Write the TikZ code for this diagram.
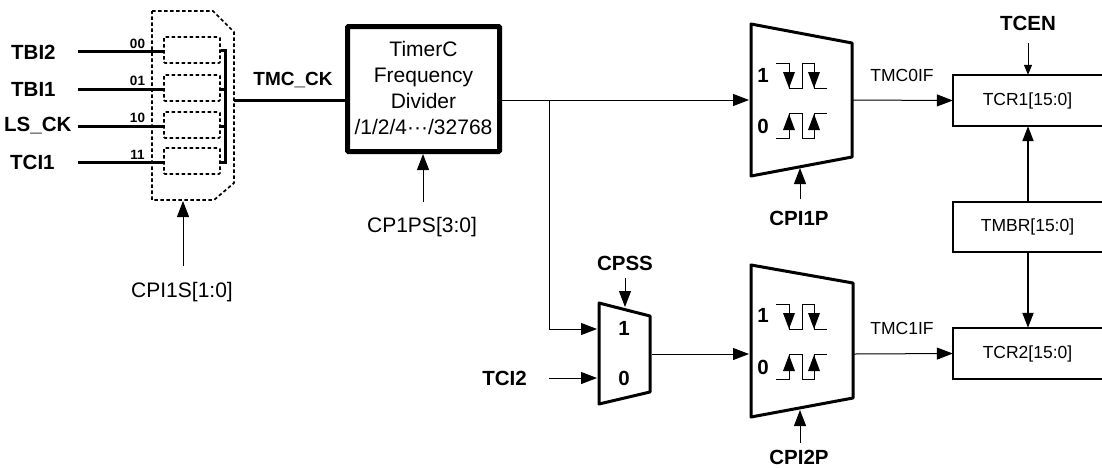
\documentclass[tikz,border=0pt]{standalone}
\usepackage{fontspec}
\setmainfont{Liberation Sans}
\usetikzlibrary{arrows.meta}
\tikzset{
 x=1pt,y=-1pt,
 lbl/.style={inner sep=0pt,font=\fontsize{20.5}{24}\selectfont\bfseries},
 txt/.style={inner sep=0pt,font=\fontsize{21}{24}\selectfont},
 small/.style={inner sep=0pt,font=\fontsize{17.5}{20}\selectfont},
 tiny/.style={inner sep=0pt,font=\fontsize{13.5}{15}\selectfont\bfseries},
 wire/.style={line width=1pt},
 arr/.style={line width=1pt,-{Triangle[length=16pt,width=12pt]}},
 tarr/.style={line width=1pt,-{Triangle[length=10pt,width=8pt]}},
 varr/.style={line width=2pt,-{Triangle[length=15pt,width=11pt]}},
 bus/.style={line width=3pt},
 dashb/.style={line width=1.7pt,dash pattern=on 3.5pt off 2.5pt},
 mux/.style={line width=3pt,line join=round},
 reg/.style={inner sep=0pt,minimum width=149pt,font=\fontsize{17.5}{20}\selectfont},
 frame/.style={line width=2pt},
}
\newcommand{\edges}[1]{%
 \begin{scope}[yshift=#1]
 \draw[wire] (776,63)--(789,63)--(789,88)--(802,88)--(802,63)--(814,63)--(814,88)--(827,88);
 \draw[wire] (776,138)--(789,138)--(789,113)--(802,113)--(802,138)--(814,138)--(814,113)--(827,113);
 \fill (783,72)--(795,72)--(789,88)--cycle;
 \fill (808,72)--(820,72)--(814,88)--cycle;
 \fill (783,130)--(795,130)--(789,114)--cycle;
 \fill (808,130)--(820,130)--(814,114)--cycle;
 \end{scope}}
\begin{document}
\begin{tikzpicture}
\useasboundingbox (0,0) rectangle (1102,467);
% selector
\draw[dashb] (152,11)--(213,11)--(234,32)--(234,183)--(214,200)--(152,200)--cycle;
\foreach \ya/\yb in {37/63,75/101,112/138,148/174}{
 \draw[dashb,rounded corners=1pt] (164,\ya) rectangle (220,\yb);
}
\coordinate (i1) at (165,51); \coordinate (i2) at (165,89); \coordinate (i3) at (165,126); \coordinate (i4) at (165,162);
\coordinate (s1) at (78,51); \coordinate (s2) at (78,89); \coordinate (s3) at (78,126); \coordinate (s4) at (78,162);
\node[lbl,anchor=west] (tbi2) at (11,52) {TBI2};
\node[lbl,anchor=west] (tbi1) at (11,89) {TBI1};
\node[lbl,anchor=west] (lsck) at (4,126) {LS\_CK};
\node[lbl,anchor=west] (tci1) at (10,162) {TCI1};
\draw[bus] (s1)--(i1);
\draw[bus] (s2)--(i2);
\draw[bus] (s3)--(i3);
\draw[bus] (s4)--(i4);
\node[tiny] (n00) at (137.5,44) {00};
\node[tiny] (n01) at (137.5,81) {01};
\node[tiny] (n10) at (137.5,118) {10};
\node[tiny] (n11) at (137.5,155) {11};
\draw[bus] (221,50)-|(225,162)--(221,162);
\draw[bus] (221,89)--(225,89); \draw[bus] (221,126)--(225,126);
\coordinate (sel) at (183,201);
\coordinate (selb) at (183,266);
\draw[arr] (selb)--(sel);
\node[txt] (cpi1s) at (182,292) {CPI1S[1:0]};
% divider
\node[draw,line width=5pt,rounded corners=1pt,minimum width=152pt,minimum height=125pt,inner sep=0pt] (div) at (423.5,89) {};
\node[inner sep=0pt,align=center,font=\fontsize{21}{26}\selectfont] (divt) at (423.5,87.5) {TimerC\\Frequency\\Divider\\/1/2/4···/32768};
\coordinate (bs) at (234,100);
\draw[bus] (bs)--(347,100);
\node[inner sep=0pt,font=\fontsize{19}{22}\selectfont\bfseries] (ck) at (293,80.5) {TMC\_CK};
\coordinate (dpb) at (423,202);
\draw[arr] (dpb)--(423,154);
\node[txt] (cp1ps) at (422,227) {CP1PS[3:0]};
% mux 1
\draw[mux] (751,24)--(852,43)--(852,157)--(751,176)--cycle;
\edges{0pt}
\node[lbl] (one1) at (763,75) {1};
\node[lbl] (zero1) at (763,126) {0};
\coordinate (m1in) at (749,100);
\coordinate (br) at (549,100);
\draw[arr] (div.east |- m1in)--(m1in);
\coordinate (m1c) at (800,199);
\draw[arr] (m1c)--(800,168);
\node[lbl] (cpi1p) at (799,218) {CPI1P};
% mux 2
\draw[mux] (751,265)--(853,283)--(853,398)--(751,417)--cycle;
\edges{-241pt}
\node[lbl] (one2) at (763,315) {1};
\node[lbl] (zero2) at (763,367) {0};
\coordinate (m2c) at (800,443);
\draw[arr] (m2c)--(800,410);
\node[lbl] (cpi2p) at (799,457) {CPI2P};
% small mux
\draw[mux] (599,303)--(650,316)--(650,392)--(599,404)--cycle;
\node[lbl] (s1t) at (624,328) {1};
\node[lbl] (s0t) at (624,378) {0};
\draw[arr] (br)|-(597,329);
\node[lbl,anchor=east] (tci2) at (527,378) {TCI2};
\coordinate (tc) at (549,378);
\draw[arr] (tc)--(597,378);
\draw[arr] (652,354)--(749,354);
\node[lbl] (cpss) at (625,263) {CPSS};
\coordinate (cp) at (625,278);
\draw[arr] (cp)--(625,307);
% regs
\node[reg,minimum height=51pt] (t1) at (1027.5,100.5) {TCR1[15:0]};
\node[reg,minimum height=50pt] (tm) at (1027.5,227) {TMBR[15:0]};
\node[reg,minimum height=51pt] (t2) at (1027.5,353.5) {TCR2[15:0]};
\foreach \r in {t1,tm,t2}{
 \draw[frame] (\r.north east)--(\r.north west)--(\r.south west)--(\r.south east);
}
\coordinate (o1) at (853,100);
\coordinate (o2) at (854,354);
\draw[arr] (o1)--(t1.west);
\draw[arr] (o2)--(t2.west);
\node[small] (if0) at (902,75) {TMC0IF};
\node[small] (if1) at (902,328) {TMC1IF};
\node[lbl] (tcen) at (1028,23) {TCEN};
\coordinate (tca) at (1028,43);
\draw[tarr] (tca)--(t1.north -| tca);
\draw[varr] (tm.north -| tca)--(t1.south -| tca);
\draw[varr] (tm.south -| tca)--(t2.north -| tca);
\end{tikzpicture}
\end{document}
